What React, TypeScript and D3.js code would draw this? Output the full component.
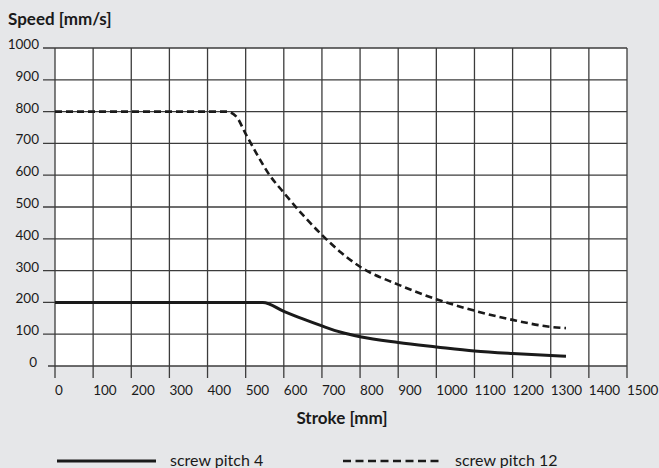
import React from "react";
import * as d3 from "d3";

const xTicks = [0, 100, 200, 300, 400, 500, 600, 700, 800, 900, 1000, 1100, 1200, 1300, 1400, 1500];
const yTicks = [0, 100, 200, 300, 400, 500, 600, 700, 800, 900, 1000];

const pitch4Stroke = [0, 545, 600, 650, 700, 750, 800, 900, 1000, 1100, 1200, 1300, 1340];
const pitch4Speed = [200, 200, 172, 148, 126, 106, 92, 74, 60, 47, 39, 33, 31];

const pitch12Stroke = [0, 450, 475, 500, 530, 560, 600, 650, 700, 750, 800, 900, 1000, 1100, 1200, 1300, 1340];
const pitch12Speed = [800, 800, 785, 730, 665, 605, 545, 475, 412, 357, 312, 256, 210, 174, 145, 123, 119];

const seriesNames = ["screw pitch 4", "screw pitch 12"];

const W = 659;
const H = 468;
const FONT = "Lato, 'DejaVu Sans', sans-serif";

export default function App() {
  const x = d3.scaleLinear().domain([0, 1500]).range([55, 627]);
  const y = d3.scaleLinear().domain([0, 1000]).range([366, 48]);

  const line = d3
    .line<[number, number]>()
    .x((d) => x(d[0]))
    .y((d) => y(d[1]))
    .curve(d3.curveMonotoneX);

  const s4: [number, number][] = pitch4Stroke.map((v, i) => [v, pitch4Speed[i]]);
  const s12: [number, number][] = pitch12Stroke.map((v, i) => [v, pitch12Speed[i]]);

  const gridColor = "#3c3c3c";

  return (
    <svg
      width={W}
      height={H}
      style={{ position: "absolute", left: 0, top: 0, display: "block" }}
      fontFamily={FONT}
    >
      <rect x={0} y={0} width={W} height={H} fill="#e6e7e9" />
      <rect x={x(0)} y={y(1000)} width={x(1500) - x(0)} height={y(0) - y(1000)} fill="#ffffff" />

      {/* horizontal grid + y ticks */}
      {yTicks.map((t) => (
        <line
          key={"h" + t}
          x1={t === 0 ? x(0) - 7 : x(0) - 12}
          x2={x(1500)}
          y1={y(t)}
          y2={y(t)}
          stroke={gridColor}
          strokeWidth={1.3}
        />
      ))}
      {/* vertical grid + x ticks */}
      {xTicks.map((t) => (
        <line
          key={"v" + t}
          x1={x(t)}
          x2={x(t)}
          y1={y(1000)}
          y2={y(0) + 12}
          stroke={gridColor}
          strokeWidth={1.3}
        />
      ))}

      {/* y labels */}
      {yTicks.map((t) => (
        <text
          key={"yl" + t}
          x={t === 0 ? x(0) - 18 : x(0) - 16}
          y={y(t) + 1}
          textAnchor="end"
          fontSize={13.5}
          fill="#1a1a1a"
        >
          {t}
        </text>
      ))}
      {/* x labels */}
      {xTicks.map((t) => (
        <text key={"xl" + t} x={x(t)} y={y(0) + 29} textAnchor="start" fontSize={13.5} fill="#1a1a1a">
          {t}
        </text>
      ))}

      {/* curves */}
      <path d={line(s4) || ""} fill="none" stroke="#1a1a1a" strokeWidth={3} />
      <path d={line(s12) || ""} fill="none" stroke="#1a1a1a" strokeWidth={2.6} strokeDasharray="7,4" />

      {/* titles */}
      <text x={8} y={25} fontSize={17} fontWeight="bold" fill="#1a1a1a">
        Speed [mm/s]
      </text>
      <text x={342} y={424} fontSize={17} fontWeight="bold" fill="#1a1a1a" textAnchor="middle">
        Stroke [mm]
      </text>

      {/* legend */}
      <line x1={57} x2={156} y1={461} y2={461} stroke="#1a1a1a" strokeWidth={3} />
      <text x={170} y={466} fontSize={16} fill="#1a1a1a">
        {seriesNames[0]}
      </text>
      <line x1={343} x2={443} y1={461} y2={461} stroke="#1a1a1a" strokeWidth={2.6} strokeDasharray="8,4.5" />
      <text x={455} y={466} fontSize={16} fill="#1a1a1a">
        {seriesNames[1]}
      </text>
    </svg>
  );
}
